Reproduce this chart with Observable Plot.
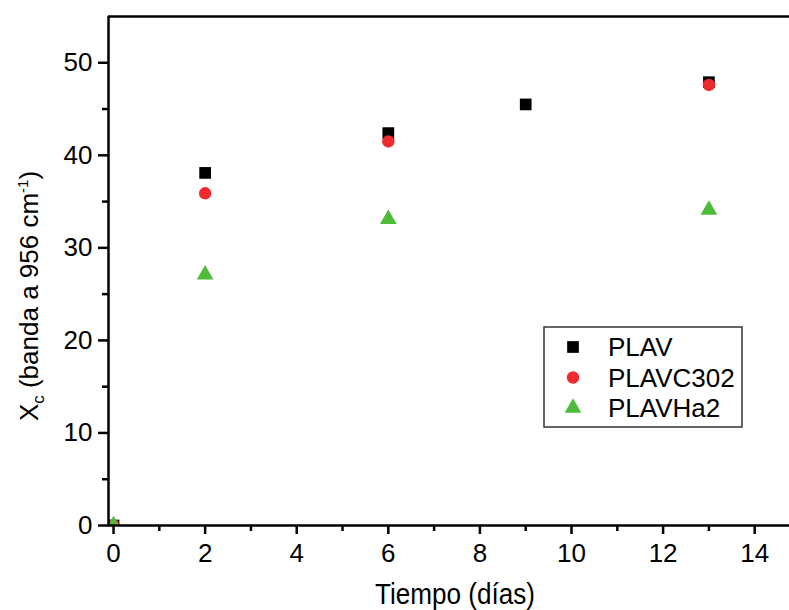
<!DOCTYPE html>
<html><head><meta charset="utf-8">
<script src="https://cdn.jsdelivr.net/npm/d3@7"></script>
<script src="https://cdn.jsdelivr.net/npm/@observablehq/plot@0.6"></script>
<style>body{margin:0;background:#fff;font-family:"Liberation Sans",Arial,sans-serif}</style>
</head><body><div id="chart"></div>
<script>
const daysPLAV = [0, 2, 6, 9, 13];
const valuesPLAV = [0, 38.1, 42.4, 45.5, 47.9];
const daysPLAVC302 = [0, 2, 6, 13];
const valuesPLAVC302 = [0, 35.9, 41.5, 47.6];
const daysPLAVHa2 = [0, 2, 6, 13];
const valuesPLAVHa2 = [0, 27.1, 33.1, 34.1];
const seriesNames = ["PLAV", "PLAVC302", "PLAVHa2"];
const seriesColors = ["#000000", "#ee2a2e", "#4fbb3a"];
const seriesSymbols = ["square", "circle", "triangle"];
const xTicks = [0, 2, 4, 6, 8, 10, 12, 14];
const xMinorTicks = [1, 3, 5, 7, 9, 11, 13];
const yTicks = [0, 10, 20, 30, 40, 50];
const yMinorTicks = [5, 15, 25, 35, 45];
const xLabel = "Tiempo (días)";

const xDomain = [-0.11, 14.76];
const yDomain = [0, 55];
const FONT = 26;

const mk = (xs, ys, name) => xs.map((d, i) => ({day: d, value: ys[i], series: name}));
const dPLAV = mk(daysPLAV, valuesPLAV, seriesNames[0]);
const dC302 = mk(daysPLAVC302, valuesPLAVC302, seriesNames[1]);
const dHa2 = mk(daysPLAVHa2, valuesPLAVHa2, seriesNames[2]);

const chart = Plot.plot({
  width: 789,
  height: 610,
  marginLeft: 108,
  marginRight: 0,
  marginTop: 16,
  marginBottom: 85,
  style: {fontFamily: '"Liberation Sans", Arial, sans-serif', background: "#fff"},
  x: {domain: xDomain},
  y: {domain: yDomain},
  marks: [
    Plot.dot(dPLAV, {x: "day", y: "value", symbol: () => seriesSymbols[0], fill: seriesColors[0], r: 6.6, clip: true}),
    Plot.dot(dC302, {x: "day", y: "value", symbol: () => seriesSymbols[1], fill: seriesColors[1], r: 6.2, clip: true}),
    Plot.dot(dHa2, {x: "day", y: "value", symbol: () => seriesSymbols[2], fill: seriesColors[2], r: 6.2, clip: true}),
    Plot.axisX({ticks: xTicks, tickSize: 9, tickPadding: 9, fontSize: FONT, label: null, strokeWidth: 2.5, tickFormat: d => String(d)}),
    Plot.axisX({ticks: xMinorTicks, tickSize: 6, text: null, label: null, strokeWidth: 2.5}),
    Plot.axisY({ticks: yTicks, tickSize: 10, tickPadding: 6, fontSize: FONT, label: null, strokeWidth: 2.5, tickFormat: d => String(d)}),
    Plot.axisY({ticks: yMinorTicks, tickSize: 6, text: null, label: null, strokeWidth: 2.5}),
    Plot.ruleX([xDomain[0]], {stroke: "#000", strokeWidth: 2.5}),
    Plot.ruleY([yDomain[0]], {stroke: "#000", strokeWidth: 2.5}),
    Plot.ruleY([yDomain[1]], {stroke: "#000", strokeWidth: 2.5})
  ]
});

const svg = d3.select(chart);
// x axis label (slightly condensed like the original)
svg.append("text")
  .attr("transform", "translate(455,604) scale(0.9,1)")
  .attr("text-anchor", "middle")
  .attr("font-size", 29)
  .attr("fill", "#000")
  .text(xLabel);
// y axis label with sub/superscripts
const yl = svg.append("text")
  .attr("transform", "translate(38,296) rotate(-90)")
  .attr("text-anchor", "middle")
  .attr("font-size", FONT)
  .attr("fill", "#000");
yl.append("tspan").text("X");
yl.append("tspan").attr("font-size", 17).attr("dy", 6).text("c");
yl.append("tspan").attr("dy", -6).text(" (banda a 956 cm");
yl.append("tspan").attr("font-size", 15).attr("dy", -10).text("-1");
yl.append("tspan").attr("dy", 10).text(")");

// legend
const lg = svg.append("g");
lg.append("rect").attr("x", 544).attr("y", 327).attr("width", 198).attr("height", 100)
  .attr("fill", "#fff").attr("stroke", "#333").attr("stroke-width", 1.5);
const symMap = {square: d3.symbolSquare, circle: d3.symbolCircle, triangle: d3.symbolTriangle};
const rs = [6.6, 6.2, 6.2];
seriesNames.forEach((name, i) => {
  const cy = 347 + i * 30.5;
  lg.append("path")
    .attr("d", d3.symbol(symMap[seriesSymbols[i]], Math.PI * rs[i] * rs[i])())
    .attr("transform", `translate(573,${cy})`)
    .attr("fill", seriesColors[i]);
  lg.append("text").attr("x", 608).attr("y", cy).attr("dy", "0.35em")
    .attr("text-anchor", "start")
    .attr("font-size", FONT).attr("fill", "#000").text(name);
});

document.getElementById("chart").append(chart);
</script>
</body></html>
